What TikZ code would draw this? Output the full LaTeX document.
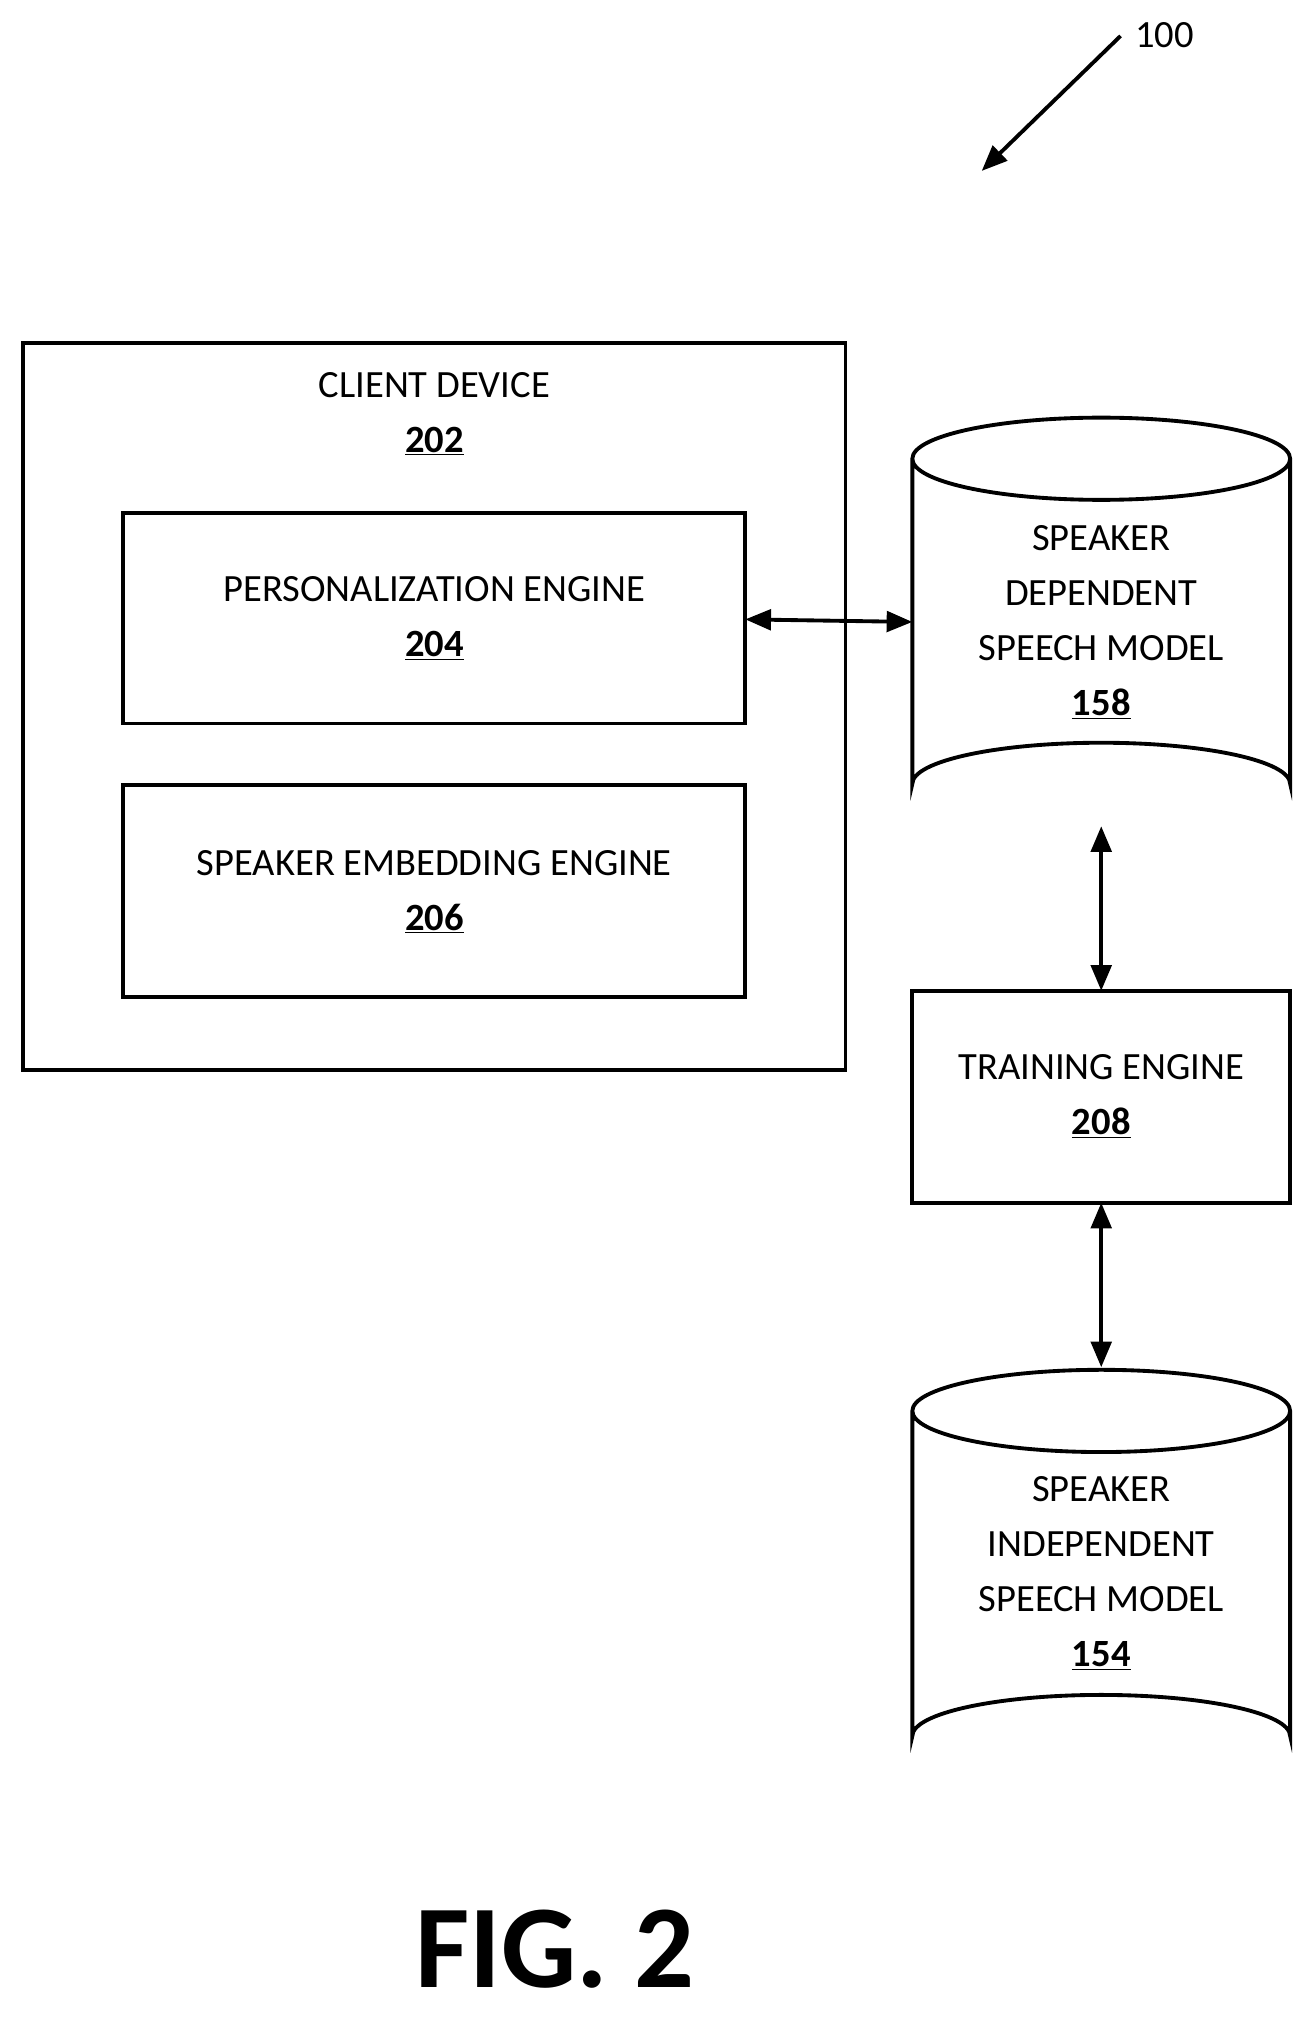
\documentclass[tikz,border=0pt]{standalone}
\usepackage{fontspec}
\setmainfont{Carlito}
\usetikzlibrary{arrows.meta}
\begin{document}
\begin{tikzpicture}[x=1pt,y=-1pt,
  box/.style={draw,line width=3pt},
  txt/.style={align=center,font=\fontsize{30}{43}\selectfont},
  arr/.style={line width=3pt,{Triangle[length=20pt,width=16pt]}-{Triangle[length=20pt,width=16pt]}}]
\useasboundingbox (0,0) rectangle (1024,1572);
\def\cyl#1#2{% top y, bottom y
  \draw[line width=3pt,fill=white] (710,#1+32) -- (710,#2-32) arc[start angle=180,end angle=360,x radius=147,y radius=32] -- (1004,#1+32) arc[start angle=0,end angle=-180,x radius=147,y radius=32] arc[start angle=180,end angle=0,x radius=147,y radius=32];}
\draw[box] (18,267) rectangle (658,833);
\node[txt] (cd) at (338,322) {CLIENT DEVICE\\\textbf{\underline{202}}};
\draw[box] (96,399) rectangle (580,563);
\node[txt] (pe) at (338,481) {PERSONALIZATION ENGINE\\\textbf{\underline{204}}};
\draw[box] (96,611) rectangle (580,776);
\node[txt] (se) at (338,694) {SPEAKER EMBEDDING ENGINE\\\textbf{\underline{206}}};
\cyl{325}{642}
\node[txt] (sd) at (857,484) {SPEAKER\\DEPENDENT\\SPEECH MODEL\\\textbf{\underline{158}}};
\draw[box] (710,771) rectangle (1004,936);
\node[txt] (te) at (857,853) {TRAINING ENGINE\\\textbf{\underline{208}}};
\cyl{1066}{1383}
\node[txt] (si) at (857,1224) {SPEAKER\\INDEPENDENT\\SPEECH MODEL\\\textbf{\underline{154}}};
\coordinate (peR) at (580,482); \coordinate (sdL) at (710,484);
\coordinate (sdB) at (857,643); \coordinate (teT) at (857,771);
\coordinate (teB) at (857,936); \coordinate (siT) at (857,1064);
\draw[arr] (peR) -- (sdL);
\draw[arr] (sdB) -- (teT);
\draw[arr] (teB) -- (siT);
\node[txt,anchor=west] (lbl) at (880,27) {100};
\coordinate (a1) at (872,28); \coordinate (a2) at (764,133);
\draw[line width=3pt,-{Triangle[length=20pt,width=16pt]}] (a1) -- (a2);
\node[font=\bfseries\fontsize{92}{100}\selectfont] (fig) at (432,1517) {FIG. 2};
\end{tikzpicture}
\end{document}
